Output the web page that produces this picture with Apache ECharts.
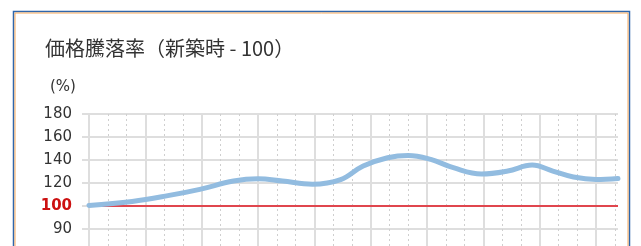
<!DOCTYPE html>
<html>
<head>
<meta charset="utf-8">
<script src="https://cdn.jsdelivr.net/npm/echarts@6/dist/echarts.min.js"></script>
<style>
html, body { margin: 0; padding: 0; background: #fff; overflow: hidden; }
#main { width: 641px; height: 300px; }
</style>
</head>
<body>
<div id="main"></div>
<script>
// years after construction and price ratio (new = 100)
var years = [0, 2.3, 4.2, 5.9, 7.7, 9.0, 10.3, 11.9, 13.4, 14.6, 15.9, 17.0, 18.2, 19.4, 20.9, 22.3, 23.6, 24.7, 25.8, 27.0, 28.17]
var ratio = [100.5, 104, 109, 114.5, 121.7, 123.7, 121.7, 119, 123, 134.8, 142, 144, 140.5, 133.3, 127.8, 130.4, 135.6, 130.4, 125.2, 123.1, 124]
var base_line = [100, 100]
var x_max = 28.17
// tick labels from bottom to top (bottom part of the axis is compressed, lowest one is cut off)
var y_labels = ['', '90', '100', '120', '140', '160', '180']

var line_data = new Array()
for (var i = 0; i < years.length; i++) {
    line_data.push([years[i], ratio[i]])
}
var base_data = [[0, base_line[0]], [x_max, base_line[1]]]

var grid_color = '#dedede'

var option = {
    animation: false,
    textStyle: {
        fontFamily: 'DejaVu Sans',
    },
    title: [
        {
            text: '価格騰落率（新築時 - 100）',
            left: 40,
            top: 33,
            textStyle: {
                fontFamily: 'Noto Sans CJK JP',
                fontSize: 20,
                fontWeight: 'normal',
                color: '#333',
            },
        },
        {
            text: '(%)',
            left: 45,
            top: 75,
            textStyle: {
                fontFamily: 'DejaVu Sans',
                fontSize: 15,
                fontWeight: 'normal',
                color: '#333',
            },
        },
    ],
    grid: {
        left: 89,
        right: 23,
        top: 114,
        bottom: 48,
        containLabel: false,
    },
    xAxis: [
        {
            type: 'value',
            min: 0,
            max: x_max,
            interval: 3,
            axisLine: { show: false },
            axisTick: { show: false },
            axisLabel: { show: false },
            splitLine: {
                show: true,
                showMaxLine: false,
                lineStyle: { color: grid_color, width: 2 },
            },
        },
        {
            type: 'value',
            min: 0,
            max: x_max,
            interval: 1,
            position: 'bottom',
            axisLine: { show: false },
            axisTick: { show: false },
            axisLabel: { show: false },
            splitLine: {
                show: true,
                showMaxLine: false,
                lineStyle: {
                    color: ['rgba(0,0,0,0)', '#cfcfcf', '#cfcfcf'],
                    width: 1,
                    type: [2, 3],
                },
            },
        },
    ],
    yAxis: {
        type: 'value',
        min: 60,
        max: 180,
        interval: 20,
        axisLine: { show: false },
        axisTick: {
            show: true,
            length: 7,
            lineStyle: { color: grid_color, width: 2 },
        },
        axisLabel: {
            margin: 17,
            fontSize: 15,
            color: '#333',
            formatter: function (value, index) {
                var t = y_labels[index] || ''
                if (t == '100') {
                    return '{red|' + t + '}'
                }
                return t
            },
            rich: {
                red: {
                    color: '#cc1111',
                    fontWeight: 'bold',
                    fontSize: 15,
                    fontFamily: 'DejaVu Sans',
                },
            },
        },
        splitLine: {
            show: true,
            lineStyle: { color: grid_color, width: 2 },
        },
    },
    series: [
        {
            name: 'base',
            type: 'line',
            data: base_data,
            showSymbol: false,
            silent: true,
            z: 2,
            lineStyle: { color: '#e0464e', width: 2 },
        },
        {
            name: 'ratio',
            type: 'line',
            data: line_data,
            smooth: 0.4,
            showSymbol: false,
            silent: true,
            z: 3,
            lineStyle: { color: '#92bce0', width: 5, cap: 'round' },
        },
    ],
    graphic: [
        {
            type: 'rect',
            shape: { x: 13.5, y: 11.5, width: 616, height: 300 },
            style: { fill: 'none', stroke: '#2f66ab', lineWidth: 1.5 },
            silent: true,
        },
        {
            type: 'rect',
            shape: { x: 15, y: 13, width: 613, height: 300 },
            style: { fill: 'none', stroke: '#f7aa5c', lineWidth: 1 },
            silent: true,
        },
    ],
}

var myChart = echarts.init(document.getElementById('main'))
myChart.setOption(option, true)
</script>
</body>
</html>
